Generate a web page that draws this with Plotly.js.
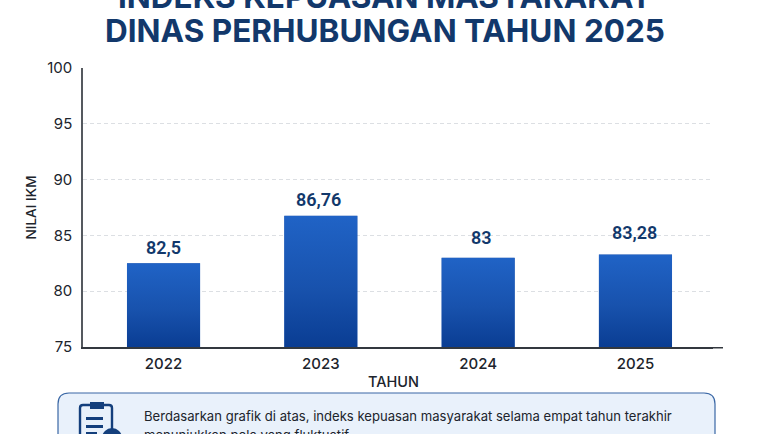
<!DOCTYPE html>
<html>
<head>
<meta charset="utf-8">
<script src="https://cdn.plot.ly/plotly-3.0.1.min.js"></script>
<style>html,body{margin:0;padding:0;background:#fff;overflow:hidden}</style>
</head>
<body>
<div id="chart" style="width:760px;height:434px"></div>
<script>
const years = ['2022', '2023', '2024', '2025'];
const ikmValues = [82.5, 86.76, 83, 83.28];
const valueLabels = ['82,5', '86,76', '83', '83,28'];
const yTicks = [75, 80, 85, 90, 95, 100];
const titleLines = ['INDEKS KEPUASAN MASYARAKAT', 'DINAS PERHUBUNGAN TAHUN 2025'];
const noteLines = ['Berdasarkan grafik di atas, indeks kepuasan masyarakat selama empat tahun terakhir', 'menunjukkan pola yang fluktuatif.'];

const W = 760, H = 434, L = 83, R = 713, T = 68, B = 347;
const barWidth = 0.465, yFloor = 75;
const labelLift = [16, 16, 20, 22];
const labelNudge = [0, -2, 3, -1];
const fx = p => (p - L) / (R - L);
const fy = p => (B - p) / (B - T);
const navy = '#12386b', ink = '#20242c', icon = '#143f7c';
const sans = 'Inter, Roboto, sans-serif';

function note(text, x, y, size, color, weight, anchor) {
  return {text, xref: 'paper', yref: 'paper', x: fx(x), y: fy(y), showarrow: false, borderpad: 0,
    xanchor: anchor, yanchor: 'middle', font: {family: sans, size, color, weight}};
}
function roundRect(x0, y0, x1, y1, r) {
  const X = fx, Y = fy;
  return `M${X(x0 + r)},${Y(y0)} L${X(x1 - r)},${Y(y0)} Q${X(x1)},${Y(y0)} ${X(x1)},${Y(y0 + r)} ` +
         `L${X(x1)},${Y(y1 - r)} Q${X(x1)},${Y(y1)} ${X(x1 - r)},${Y(y1)} L${X(x0 + r)},${Y(y1)} ` +
         `Q${X(x0)},${Y(y1)} ${X(x0)},${Y(y1 - r)} L${X(x0)},${Y(y0 + r)} Q${X(x0)},${Y(y0)} ${X(x0 + r)},${Y(y0)} Z`;
}
function pathShape(path, fill, line, w) {
  return {type: 'path', xref: 'paper', yref: 'paper', path, fillcolor: fill, line: {color: line, width: w}, layer: 'above'};
}
function block(x0, y0, x1, y1, color) {
  return {type: 'rect', xref: 'paper', yref: 'paper', x0: fx(x0), x1: fx(x1), y0: fy(y0), y1: fy(y1), fillcolor: color, line: {width: 0}, layer: 'above'};
}

const shapes = [
  {type: 'line', xref: 'paper', yref: 'paper', x0: 1, x1: fx(723), y0: fy(347.75), y1: fy(347.75), line: {color: '#33383f', width: 1.5}},
  pathShape(roundRect(58, 393, 715, 470, 11), '#e9f1fb', '#3a67a5', 1.2),
  pathShape(roundRect(80, 405, 112, 460, 3), 'rgba(0,0,0,0)', icon, 2.4),
  block(90, 402, 104, 409, icon),
  block(86, 417, 103, 420, icon),
  block(86, 425, 103, 428, icon),
  block(86, 432, 97, 435, icon),
  {type: 'circle', xref: 'paper', yref: 'paper', x0: fx(102), x1: fx(122), y0: fy(428), y1: fy(448), fillcolor: icon, line: {width: 0}, layer: 'above'}
];

const annotations = [
  note(titleLines[0], 385, -4, 31.5, navy, 700, 'center'),
  note(titleLines[1], 385, 31, 31.5, navy, 700, 'center'),
  note('TAHUN', 393.5, 381, 14.5, ink, 500, 'center'),
  note(noteLines[0], 143, 416, 13.1, ink, 400, 'left'),
  note(noteLines[1], 143, 435, 13.1, ink, 400, 'left')
].concat(years.map((yr, i) => ({
  text: valueLabels[i], x: i, y: ikmValues[i], xref: 'x', yref: 'y', showarrow: false, borderpad: 0,
  yanchor: 'middle', yshift: labelLift[i], xshift: labelNudge[i],
  font: {family: 'Roboto, sans-serif', size: 18, color: navy, weight: 600}
})));

const gradientSvg = '<svg xmlns="http://www.w3.org/2000/svg" width="10" height="100" preserveAspectRatio="none">' +
  '<defs><linearGradient id="f" x1="0" y1="0" x2="0" y2="1"><stop offset="0" stop-color="#2063c6"/>' +
  '<stop offset="0.55" stop-color="#1852ad"/><stop offset="1" stop-color="#0a3d93"/></linearGradient></defs>' +
  '<rect width="10" height="100" fill="url(#f)"/></svg>';
const gradientUrl = 'data:image/svg+xml;base64,' + btoa(gradientSvg);

const images = years.map((yr, i) => ({
  source: gradientUrl, xref: 'x', yref: 'y', x: i, y: ikmValues[i],
  sizex: barWidth, sizey: ikmValues[i] - yFloor, xanchor: 'center', yanchor: 'top',
  sizing: 'stretch', layer: 'above'
}));

const data = [{
  type: 'bar',
  x: years,
  y: ikmValues,
  width: barWidth,
  marker: {color: '#1852ad', line: {width: 0}},
  hoverinfo: 'x+y'
}];

const layout = {
  width: W, height: H,
  margin: {l: L, r: W - R, t: T, b: H - B, pad: 0},
  paper_bgcolor: '#fff', plot_bgcolor: '#fff',
  showlegend: false,
  xaxis: {
    type: 'category', range: [-0.512, 3.493], showgrid: false, zeroline: false,
    showline: true, linecolor: '#33383f', linewidth: 1.5, ticks: '',
    tickfont: {family: sans, size: 15, color: ink, weight: 500}, ticklabelstandoff: 2
  },
  yaxis: {
    range: [yFloor, 100], tickvals: yTicks, ticktext: yTicks.map(String), showgrid: true,
    gridcolor: '#dcdfe3', griddash: '4px,3px', gridwidth: 1, zeroline: false,
    showline: true, linecolor: '#55595f', linewidth: 1.5, ticks: '',
    tickfont: {family: sans, size: 15, color: ink}, ticklabelstandoff: 6,
    title: {text: 'NILAI IKM', standoff: 7, font: {family: sans, size: 13.6, color: ink, weight: 500}}
  },
  shapes, annotations, images
};

Plotly.newPlot('chart', data, layout, {displayModeBar: false, responsive: false});
</script>
</body>
</html>
